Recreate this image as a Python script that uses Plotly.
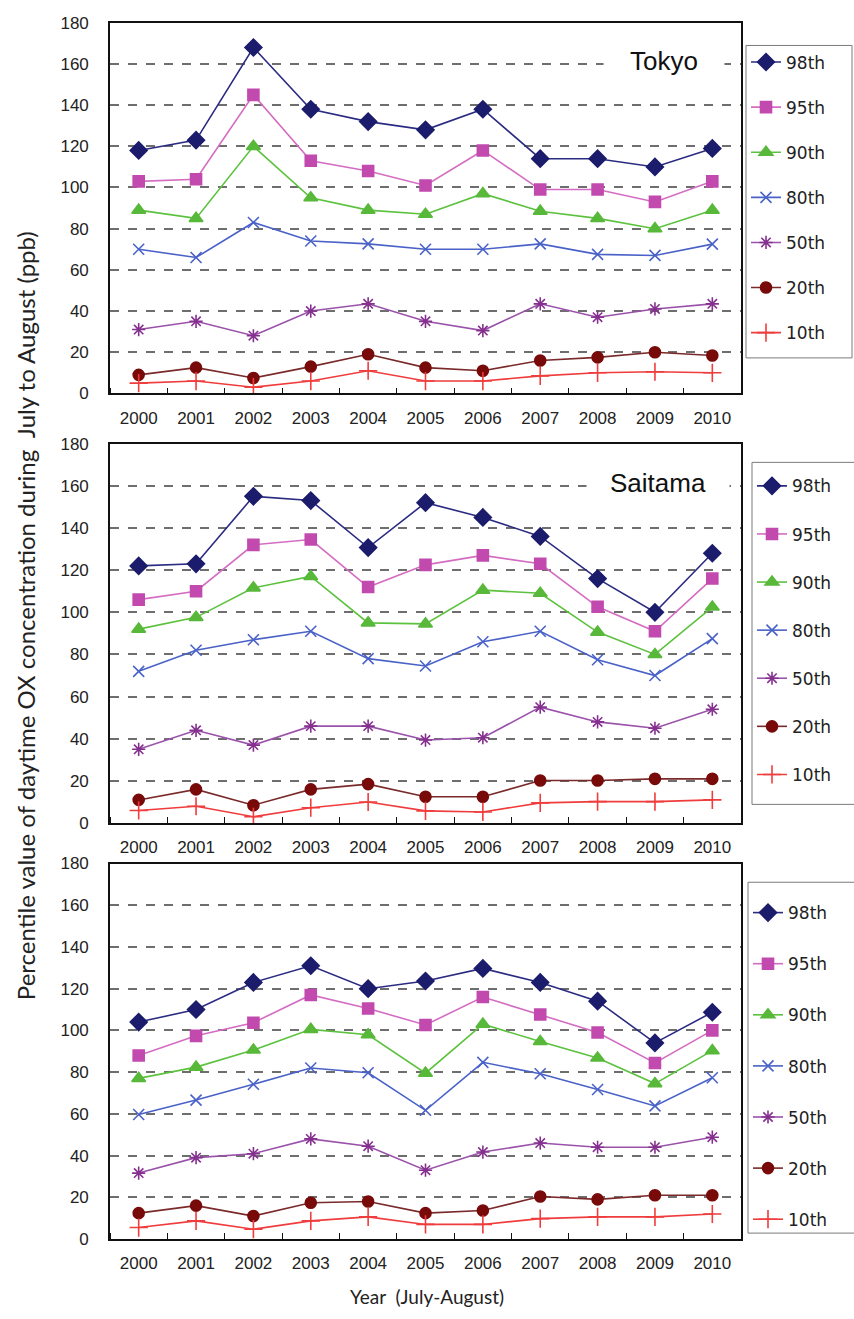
import plotly.graph_objects as go

YEARS = [2000, 2001, 2002, 2003, 2004, 2005, 2006, 2007, 2008, 2009, 2010]
PERCENTILES = ["98th", "95th", "90th", "80th", "50th", "20th", "10th"]

# Panel 1: Tokyo
TOKYO_98 = [118, 123, 168, 138, 132, 128, 138, 114, 114, 110, 119]
TOKYO_95 = [103, 104, 145, 113, 108, 101, 118, 99, 99, 93, 103]
TOKYO_90 = [89, 85, 120, 95, 89, 87, 97, 88.5, 85, 80, 89]
TOKYO_80 = [70, 66, 83, 74, 72.6, 70, 70, 72.6, 67.5, 67, 72.5]
TOKYO_50 = [31, 35, 28, 40, 43.5, 35, 30.5, 43.5, 37, 41, 43.5]
TOKYO_20 = [9, 12.5, 7.5, 13, 19, 12.5, 11, 16, 17.5, 20, 18.4]
TOKYO_10 = [5, 6, 3, 6, 11, 6, 6, 8.5, 10, 10.5, 10]

# Panel 2: Saitama
SAITAMA_98 = [122, 123, 155, 153, 130.7, 152, 145, 136, 116, 100, 128]
SAITAMA_95 = [106, 110, 132, 134.5, 112, 122.5, 127, 123, 102.6, 91, 116]
SAITAMA_90 = [92, 97.6, 111.6, 117, 95, 94.5, 110.5, 109, 90.6, 80, 102.5]
SAITAMA_80 = [72, 82, 87, 91, 78, 74.5, 86, 91, 77.5, 70, 87.5]
SAITAMA_50 = [35, 44, 37, 46, 46, 39.4, 40.5, 55, 48, 45, 54]
SAITAMA_20 = [11, 16, 8.5, 16, 18.5, 12.5, 12.5, 20.2, 20.2, 21, 21]
SAITAMA_10 = [6, 8, 3, 7.3, 10, 5.8, 5.3, 9.6, 10.2, 10.2, 11]

# Panel 3
PANEL3_98 = [104, 110, 123, 131, 120, 123.7, 129.7, 123, 114, 94, 108.7]
PANEL3_95 = [88, 97.4, 103.7, 117, 110.5, 102.6, 116, 107.6, 99, 84.4, 100]
PANEL3_90 = [77, 82.4, 90.6, 100.5, 97.9, 79.5, 103, 94.7, 86.8, 74.5, 90.3]
PANEL3_80 = [59.7, 66.6, 74.2, 82, 79.7, 61.7, 84.7, 79.2, 71.7, 63.8, 77.3]
PANEL3_50 = [31.6, 39, 40.9, 48, 44.5, 33, 41.7, 46, 44, 44, 48.8]
PANEL3_20 = [12.4, 16, 11, 17.4, 18, 12.4, 13.7, 20.4, 19, 21, 21]
PANEL3_10 = [5.5, 8.7, 4.7, 8.7, 10.6, 7, 7, 9.8, 10.6, 10.6, 12]

PANELS = [
    [TOKYO_98, TOKYO_95, TOKYO_90, TOKYO_80, TOKYO_50, TOKYO_20, TOKYO_10],
    [SAITAMA_98, SAITAMA_95, SAITAMA_90, SAITAMA_80, SAITAMA_50, SAITAMA_20, SAITAMA_10],
    [PANEL3_98, PANEL3_95, PANEL3_90, PANEL3_80, PANEL3_50, PANEL3_20, PANEL3_10],
]

STYLES = [
    dict(line="#2b2b82", marker="#1c1c6c", symbol="diamond", size=13),
    dict(line="#d46cc2", marker="#c24aae", symbol="square", size=11),
    dict(line="#5cc23e", marker="#58b83a", symbol="triangle-up", size=12),
    dict(line="#4a62c8", marker="#4a62c8", symbol="x-thin-open", size=11),
    dict(line="#9a52aa", marker="#85308f", symbol="asterisk-open", size=11),
    dict(line="#7a2a2a", marker="#780a0a", symbol="circle", size=11),
    dict(line="#f03c3c", marker="#f03c3c", symbol="cross-thin-open", size=13),
]

W, H = 854, 1319
BOXES = [(14, 390), (441, 826), (867, 1248)]
X_LEFT, X_RIGHT = 110, 741
# legend placement: (left, top of items, gap between items)
LEGEND_POS = [(746, 36, 20), (752, 466, 23), (748, 899, 26)]
# legend frames (left, top, right, bottom) in pixels
LEGEND_FRAMES = [(746, 37, 852, 354), (752, 460, 858, 807), (748, 886, 858, 1242)]

fig = go.Figure()

tick_font = dict(family="Liberation Sans, Arial", size=17, color="#222")

for p, series in enumerate(PANELS):
    ax = "" if p == 0 else str(p + 1)
    leg = "legend" if p == 0 else f"legend{p + 1}"
    for i, vals in enumerate(series):
        st = STYLES[i]
        fig.add_trace(go.Scatter(
            x=YEARS, y=vals, name=PERCENTILES[i], mode="lines+markers",
            xaxis="x" + ax, yaxis="y" + ax, legend=leg,
            legendgroup=f"{p}_{i}",
            line=dict(color=st["line"], width=1.6),
            marker=dict(color=st["marker"], symbol=st["symbol"], size=st["size"],
                        line=dict(color=st["marker"], width=1.6)),
        ))
    top, bot = BOXES[p]
    yd = [1 - bot / H, 1 - top / H]
    fig.update_layout(**{
        "xaxis" + ax: dict(
            domain=[X_LEFT / W, X_RIGHT / W], anchor="y" + ax,
            range=[1999.5, 2010.5], tickmode="array", tickvals=YEARS,
            ticktext=[str(y) for y in YEARS], ticks="", showgrid=False,
            showline=True, linecolor="#111", linewidth=1.6, mirror=True,
            tickfont=tick_font, ticklabelstandoff=8, zeroline=False,
            minor=dict(tickmode="linear", tick0=1999.5, dtick=1, ticks="inside",
                       ticklen=6, tickcolor="#111", tickwidth=1.2, showgrid=False),
        ),
        "yaxis" + ax: dict(
            domain=yd, anchor="x" + ax, range=[0, 180], dtick=20,
            showgrid=True, gridcolor="#6e6e6e", gridwidth=1.6, griddash="dash",
            showline=True, linecolor="#111", linewidth=1.6, mirror=True,
            zeroline=False, ticks="", tickfont=tick_font, ticklabelstandoff=16,
        ),
        leg: dict(
            x=LEGEND_POS[p][0] / W, y=1 - LEGEND_POS[p][1] / H,
            xanchor="left", yanchor="top",
            borderwidth=0, bgcolor="rgba(0,0,0,0)",
            font=dict(family="DejaVu Sans, Noto Sans", size=17, color="#222"),
            tracegroupgap=LEGEND_POS[p][2], itemwidth=30,
        ),
    })
    l, t, r, b = LEGEND_FRAMES[p]
    fig.add_shape(type="rect", xref="paper", yref="paper",
                  x0=l / W, x1=r / W, y0=1 - b / H, y1=1 - t / H,
                  line=dict(color="#7a7a7a", width=1), fillcolor="white", layer="below")

label_font = dict(family="Liberation Sans, Arial", size=26, color="#111")
fig.add_annotation(text="Tokyo", xref="paper", yref="paper", x=664 / W, y=1 - 53 / H,
                   xanchor="center", yanchor="middle", width=118, height=30,
                   showarrow=False, font=label_font, bgcolor="white")
fig.add_annotation(text="Saitama", xref="paper", yref="paper", x=658 / W, y=1 - 481 / H,
                   xanchor="center", yanchor="middle", width=140, height=30,
                   showarrow=False, font=label_font, bgcolor="white")
fig.add_annotation(text="Percentile value of daytime OX concentration during  July to August (ppb)",
                   xref="paper", yref="paper", x=25 / W, y=1 - 616 / H, textangle=-90,
                   xanchor="center", yanchor="middle",
                   showarrow=False, font=dict(family="Lato, Open Sans", size=24, color="#222"))
fig.add_annotation(text="Year  (July-August)", xref="paper", yref="paper", x=427 / W, y=1 - 1306 / H,
                   xanchor="center", yanchor="middle",
                   showarrow=False, font=dict(family="Lato, Open Sans", size=19, color="#222"))

fig.update_layout(
    width=W, height=H, margin=dict(l=0, r=0, t=0, b=0),
    paper_bgcolor="white", plot_bgcolor="white", showlegend=True,
)

fig.write_html("out.html", config={"displayModeBar": False},
               post_script="document.body.style.margin='0px';")
